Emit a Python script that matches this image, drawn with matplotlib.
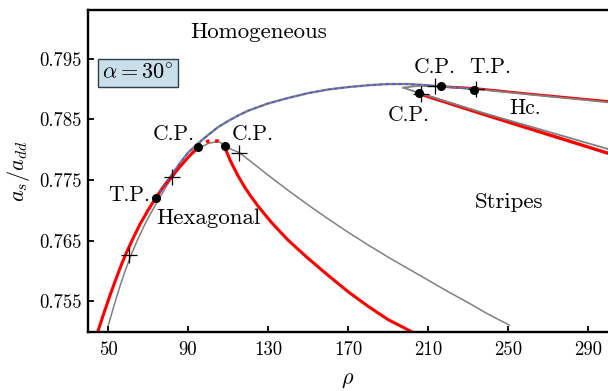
import numpy as np
import matplotlib
matplotlib.use("Agg")
import matplotlib.pyplot as plt

plt.rcParams['font.family'] = 'serif'
plt.rcParams['font.serif'] = ['cmr10', 'DejaVu Serif']
plt.rcParams['mathtext.fontset'] = 'cm'
plt.rcParams['axes.unicode_minus'] = False
plt.rcParams['axes.formatter.use_mathtext'] = True

#############################################################################
# DATA
#############################################################################

# red boundary, hexagonal side (solid up to the first C.P.)
rho_red_left = [45, 48, 51, 54, 57, 60, 63, 66, 70, 74, 78, 81.8, 85, 90, 95.2]
a_red_left = [0.7501, 0.7531, 0.7560, 0.7587, 0.7613, 0.7636, 0.7657, 0.7677,
              0.7700, 0.7721, 0.7740, 0.7755, 0.7768, 0.7787, 0.7805]

# red dotted piece between the two C.P.
rho_red_dot = [95.2, 98, 101.5, 105, 108.3]
a_red_dot = [0.7805, 0.7812, 0.7815, 0.7814, 0.7806]

# red boundary hexagonal / stripes
rho_red_right = [108.3, 109, 110, 111, 112.5, 115, 118, 121, 125, 132, 140, 150,
                 160, 170, 180, 190, 203]
a_red_right = [0.7806, 0.7799, 0.7791, 0.7783, 0.7773, 0.7757, 0.7740, 0.7725,
               0.7707, 0.7679, 0.7651, 0.7621, 0.7593, 0.7566, 0.7542, 0.7520,
               0.7498]

# gray boundary (lower)
rho_gray_low = [50.2, 53, 56, 59, 62, 65, 68, 71, 75.5, 80, 85, 90, 95, 100, 104,
                106, 108.3, 110, 112, 115.7, 122.7, 130, 140, 150, 160, 170, 180,
                191, 200, 210, 220, 230, 240, 250.6]
a_gray_low = [0.7511, 0.7543, 0.7575, 0.7604, 0.7630, 0.7653, 0.7674, 0.7693,
              0.7719, 0.7744, 0.7767, 0.7786, 0.7801, 0.7810, 0.7813, 0.7812,
              0.7807, 0.7803, 0.7800, 0.7795, 0.7777, 0.7758, 0.7733, 0.7709,
              0.7686, 0.7664, 0.7643, 0.7621, 0.7604, 0.7585, 0.7566, 0.7548,
              0.7529, 0.7511]

# homogeneous boundary (gray with blue dashes)
rho_top = [74, 78, 82, 86, 90, 95, 100, 105, 110, 115, 120, 130, 140, 150, 160,
           170, 180, 190, 200, 210, 216.5, 233.2]
a_top = [0.7721, 0.7741, 0.7759, 0.7778, 0.7795, 0.7810, 0.7824, 0.7837, 0.7847,
         0.7856, 0.7864, 0.7876, 0.7885, 0.7893, 0.7899, 0.7903, 0.7906, 0.7908,
         0.7908, 0.7906, 0.7904, 0.7900]

# Hc. wedge
rho_hc_up = [197.7, 205, 216.5, 233.2, 260, 300]
a_hc_up = [0.7902, 0.7905, 0.7904, 0.7900, 0.7891, 0.7878]
rho_hc_up_red = [216.5, 233.2, 260, 300]
a_hc_up_red = [0.7904, 0.7901, 0.7892, 0.78795]
rho_hc_low = [197.7, 205.7, 236, 300]
a_hc_low = [0.7902, 0.7893, 0.7862, 0.7801]
rho_hc_low_red = [205.7, 236, 300]
a_hc_low_red = [0.7892, 0.7860, 0.7794]

# special points
rho_dots = [74, 95.2, 108.3, 205.5, 216.5, 233.2]
a_dots = [0.7721, 0.7805, 0.7806, 0.7893, 0.7904, 0.7899]
rho_plus = [60.7, 81.8, 115.7, 206.3, 213.3, 234]
a_plus = [0.7627, 0.7755, 0.7795, 0.7892, 0.7905, 0.7900]

xticks = [50, 90, 130, 170, 210, 250, 290]
yticks = [0.755, 0.765, 0.775, 0.785, 0.795]

#############################################################################
# PLOT
#############################################################################

fig = plt.figure(figsize=(6.08, 3.91), dpi=100)
ax = fig.add_axes([88/608., 59.3/391., 520/608., 321.7/391.])

red = '#ff0000'
gray = '#808080'
blue = '#4a5ce0'

ax.plot(rho_gray_low, a_gray_low, color=gray, lw=1.1, zorder=2)
ax.plot(rho_top, a_top, color=gray, lw=1.7, zorder=2)
ax.plot(rho_top, a_top, color=blue, lw=1.1, dashes=(2.2, 2.0), zorder=3)
ax.plot(rho_red_left, a_red_left, color=red, lw=2.2, zorder=2.5)
ax.plot(rho_red_dot, a_red_dot, color=red, lw=2.5, ls=':', zorder=2.5)
ax.plot(rho_red_right, a_red_right, color=red, lw=2.2, zorder=2.5)

ax.plot(rho_hc_up_red, a_hc_up_red, color=red, lw=1.8, zorder=2)
ax.plot(rho_hc_low_red, a_hc_low_red, color=red, lw=2.4, zorder=2)
ax.plot(rho_hc_up, a_hc_up, color=gray, lw=1.3, zorder=2.6)
ax.plot(rho_hc_low, a_hc_low, color=gray, lw=1.3, zorder=2.6)

ax.plot(rho_dots, a_dots, 'o', color='black', ms=5.5, zorder=5)
ax.plot(rho_plus, a_plus, '+', color='black', ms=11, mew=0.9, zorder=5)

fs = 15.5
ax.text(60.6, 0.7725, 'T.P.', fontsize=fs, ha='center', va='center')
ax.text(82.9, 0.7825, 'C.P.', fontsize=fs, ha='center', va='center')
ax.text(122.2, 0.7825, 'C.P.', fontsize=fs, ha='center', va='center')
ax.text(213.3, 0.7936, 'C.P.', fontsize=fs, ha='center', va='center')
ax.text(241.2, 0.7936, 'T.P.', fontsize=fs, ha='center', va='center')
ax.text(200.3, 0.7857, 'C.P.', fontsize=fs, ha='center', va='center')
ax.text(258.5, 0.7868, 'Hc.', fontsize=fs, ha='center', va='center')
ax.text(125.4, 0.7994, 'Homogeneous', fontsize=16.5, ha='center', va='center')
ax.text(100.4, 0.7687, 'Hexagonal', fontsize=16.5, ha='center', va='center')
ax.text(250.5, 0.7714, 'Stripes', fontsize=16.5, ha='center', va='center')
ax.text(65, 0.7926, r'$\alpha = 30^{\circ}$', fontsize=16, ha='center', va='center',
        bbox=dict(boxstyle='square,pad=0.2', fc='#c9dfe9', ec='#2b3f4a', lw=1.0))

ax.set_xlim(40, 300)
ax.set_ylim(0.750, 0.803)
ax.set_xticks(xticks)
ax.set_yticks(yticks)
ax.set_xticklabels([str(t) for t in xticks])
ax.set_yticklabels(['%.3f' % t for t in yticks])
ax.tick_params(direction='in', length=4, width=1.3, labelsize=13.5)
ax.tick_params(axis='x', pad=7)
ax.tick_params(axis='y', pad=4.5)
for s in ['left', 'bottom', 'top']:
    ax.spines[s].set_linewidth(1.7)
ax.spines['right'].set_visible(False)

ax.set_xlabel(r'$\rho$', fontsize=16, labelpad=8)
ax.set_ylabel(r'$a_s/a_{dd}$', fontsize=16)
ax.yaxis.set_label_coords(-0.108, 0.5)

fig.savefig('out.png', dpi=100)
